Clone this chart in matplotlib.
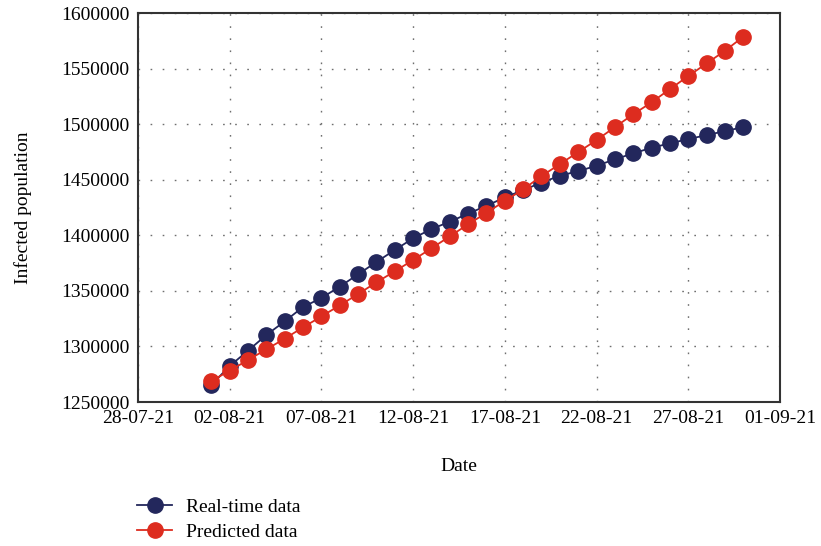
import datetime as dt
import matplotlib
matplotlib.use("Agg")
import matplotlib.pyplot as plt
import matplotlib.dates as mdates

plt.rcParams["font.family"] = ["Liberation Serif", "DejaVu Serif"]

start = dt.date(2021, 8, 1)
dates = [start + dt.timedelta(days=i) for i in range(30)]

real_time = [1265300, 1282400, 1296200, 1310300, 1322600, 1335500, 1343600,
             1353800, 1364900, 1376000, 1386800, 1397300, 1405700, 1412200,
             1419600, 1426500, 1434200, 1440700, 1447500, 1453600, 1457800,
             1462600, 1468400, 1473800, 1478800, 1482800, 1486600, 1490200,
             1493800, 1497400]
predicted = [1268900, 1278200, 1287800, 1297400, 1307000, 1317200, 1327000,
             1337000, 1347100, 1357700, 1367600, 1377800, 1388300, 1399100,
             1409900, 1420300, 1430900, 1441400, 1453300, 1464100, 1474900,
             1485700, 1497400, 1508900, 1519700, 1531600, 1543300, 1554700,
             1566100, 1578700]

navy = "#23275c"
red = "#dd2c1f"

fig = plt.figure(figsize=(8.21, 5.46), dpi=100)
ax = fig.add_axes([0.168, 0.2637, 0.782, 0.7123])

ax.plot(dates, real_time, "-o", color=navy, lw=1.3, ms=11, label="Real-time data", zorder=3)
ax.plot(dates, predicted, "-o", color=red, lw=1.3, ms=11, label="Predicted data", zorder=4)

ax.set_xlim(dt.date(2021, 7, 28), dt.date(2021, 9, 1))
ax.set_ylim(1250000, 1600000)
ticks = [dt.date(2021, 7, 28) + dt.timedelta(days=5 * i) for i in range(8)]
ax.set_xticks(ticks)
ax.xaxis.set_major_formatter(mdates.DateFormatter("%d-%m-%y"))
ax.set_yticks(range(1250000, 1600001, 50000))
ax.set_yticklabels([str(v) for v in range(1250000, 1600001, 50000)])

ax.grid(True, linestyle=(0, (1.2, 7.5)), color="#6f6f6f", lw=1.0)
ax.tick_params(length=0, labelsize=14, pad=6)
for s in ax.spines.values():
    s.set_color("#333333")
    s.set_linewidth(1.5)

ax.set_xlabel("Date", fontsize=14, labelpad=22)
ax.set_ylabel("Infected population", fontsize=14, labelpad=21)

fig.legend(loc="lower left", bbox_to_anchor=(0.146, -0.023), frameon=False,
           fontsize=14, handlelength=1.8, labelspacing=0.4, handletextpad=0.7)

fig.savefig("out.png", dpi=100)
